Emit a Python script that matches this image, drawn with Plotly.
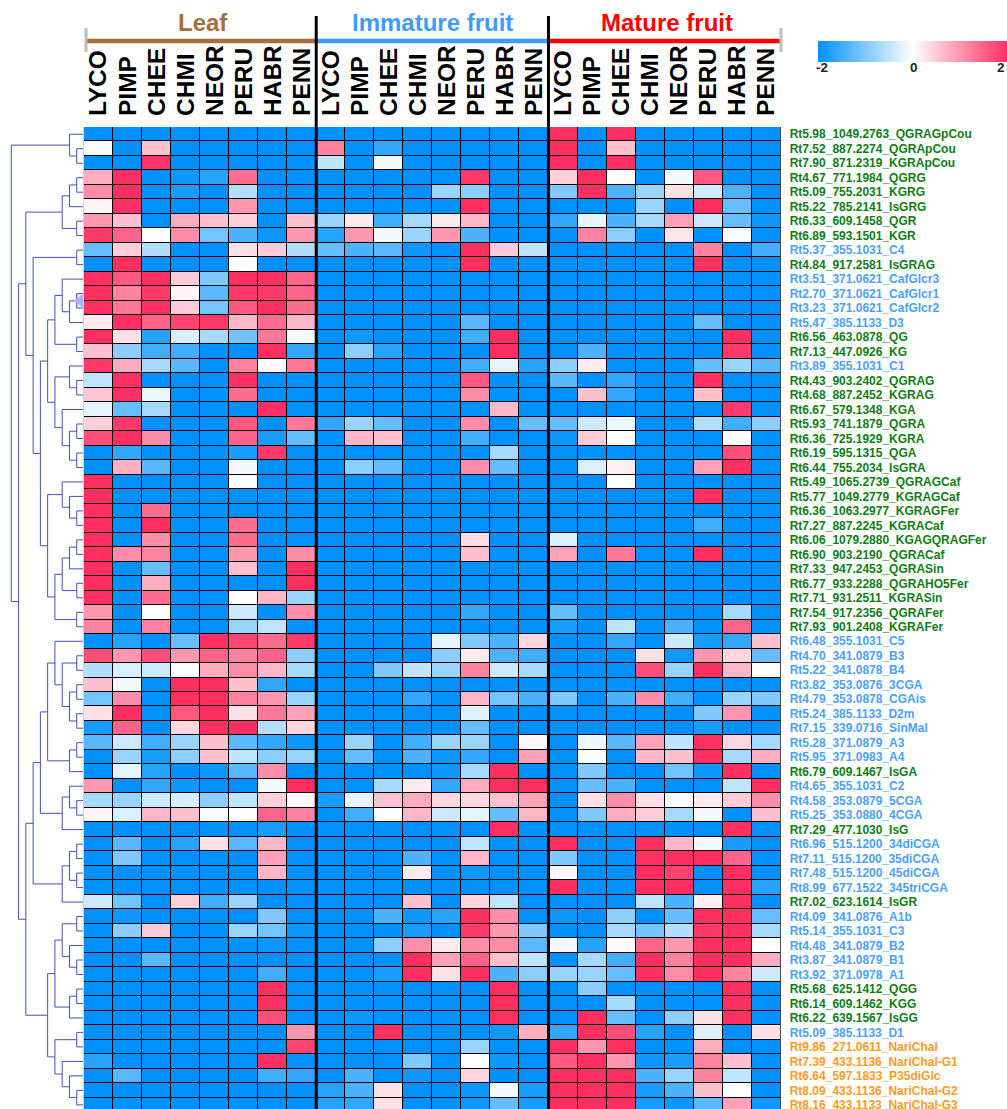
import plotly.graph_objects as go

W, H = 1007, 1109
FONT = "Liberation Sans"
GREEN, BLUE, ORANGE = "#0f7d14", "#4a9fff", "#ff9a1e"

species = ["LYCO", "PIMP", "CHEE", "CHMI", "NEOR", "PERU", "HABR", "PENN"]
tissues = ["Leaf", "Immature fruit", "Mature fruit"]
tissue_colors = ["#a56f3b", "#3f9bff", "#ff0000"]
legend_ticks = ["-2", "0", "2"]

row_names = [
    "Rt5.98_1049.2763_QGRAGpCou", "Rt7.52_887.2274_QGRApCou", "Rt7.90_871.2319_KGRApCou", "Rt4.67_771.1984_QGRG",
    "Rt5.09_755.2031_KGRG", "Rt5.22_785.2141_IsGRG", "Rt6.33_609.1458_QGR", "Rt6.89_593.1501_KGR",
    "Rt5.37_355.1031_C4", "Rt4.84_917.2581_IsGRAG", "Rt3.51_371.0621_CafGlcr3", "Rt2.70_371.0621_CafGlcr1",
    "Rt3.23_371.0621_CafGlcr2", "Rt5.47_385.1133_D3", "Rt6.56_463.0878_QG", "Rt7.13_447.0926_KG",
    "Rt3.89_355.1031_C1", "Rt4.43_903.2402_QGRAG", "Rt4.68_887.2452_KGRAG", "Rt6.67_579.1348_KGA",
    "Rt5.93_741.1879_QGRA", "Rt6.36_725.1929_KGRA", "Rt6.19_595.1315_QGA", "Rt6.44_755.2034_IsGRA",
    "Rt5.49_1065.2739_QGRAGCaf", "Rt5.77_1049.2779_KGRAGCaf", "Rt6.36_1063.2977_KGRAGFer", "Rt7.27_887.2245_KGRACaf",
    "Rt6.06_1079.2880_KGAGQRAGFer", "Rt6.90_903.2190_QGRACaf", "Rt7.33_947.2453_QGRASin", "Rt6.77_933.2288_QGRAHO5Fer",
    "Rt7.71_931.2511_KGRASin", "Rt7.54_917.2356_QGRAFer", "Rt7.93_901.2408_KGRAFer", "Rt6.48_355.1031_C5",
    "Rt4.70_341.0879_B3", "Rt5.22_341.0878_B4", "Rt3.82_353.0876_3CGA", "Rt4.79_353.0878_CGAis",
    "Rt5.24_385.1133_D2m", "Rt7.15_339.0716_SinMal", "Rt5.28_371.0879_A3", "Rt5.95_371.0983_A4",
    "Rt6.79_609.1467_IsGA", "Rt4.65_355.1031_C2", "Rt4.58_353.0879_5CGA", "Rt5.25_353.0880_4CGA",
    "Rt7.29_477.1030_IsG", "Rt6.96_515.1200_34diCGA", "Rt7.11_515.1200_35diCGA", "Rt7.48_515.1200_45diCGA",
    "Rt8.99_677.1522_345triCGA", "Rt7.02_623.1614_IsGR", "Rt4.09_341.0876_A1b", "Rt5.14_355.1031_C3",
    "Rt4.48_341.0879_B2", "Rt3.87_341.0879_B1", "Rt3.92_371.0978_A1", "Rt5.68_625.1412_QGG",
    "Rt6.14_609.1462_KGG", "Rt6.22_639.1567_IsGG", "Rt5.09_385.1133_D1", "Rt9.86_271.0611_NariChal",
    "Rt7.39_433.1136_NariChal-G1", "Rt6.64_597.1833_P35diGlc", "Rt8.09_433.1136_NariChal-G2", "Rt8.16_433.1133_NariChal-G3",
]
row_classes = list("gggggggg" "bg" "bbbb" "gg" "b" "ggg" "gggg" "ggggggggggg"
                   "bbbbbbbbb" "g" "bbb" "g" "bbbb" "g" "bbbbb" "ggg" "b" "ooooo")

leaf_values = [
    [-2, -2, -2, -2, -2, -2, -2, -2],
    [-.05, -2, .6, -2, -2, -2, -2, -2],
    [-2, -2, 1.95, -2, -2, -2, -2, -2],
    [.8, 2, -2, -1.9, -1.7, 1.4, -2, -2],
    [1.1, 2, -2, -1.8, -2, -.6, -2, -2],
    [.1, 2, -2, -2, -2, 1, -2, -2],
    [1, .6, -2, .8, .6, .45, -2, .6],
    [1.9, 1.5, 0, 1.1, -1.1, -1.4, -1.9, 1],
    [-1.2, .45, -.6, -2, -2, .3, .5, -.6],
    [-2, 2, -2, -2, -2, 0, -2, -2],
    [2, 1.6, 2, .5, -1, 2, 2, 1.5],
    [2, 1.2, 1.9, .1, -1.3, 1.9, 1.9, 1.5],
    [2, 1.3, 2, .5, -1.1, 1.6, 2, 1.4],
    [.2, 2, 1.5, 1.8, 1.9, .7, 1.4, .7],
    [2, .3, -1.7, -.3, -.7, -1.1, 1.3, -.1],
    [.6, -.9, -1.5, -1.5, -2, -2, 2, -1.6],
    [1.9, .8, -.7, -1.3, -2, 1.2, .05, 1.3],
    [-.5, 2, -2, -2, -2, 2, -2, -2],
    [.55, 2, -.15, -2, -2, 1.4, -2, -2],
    [-.2, -1.2, -.7, -2, -2, -2, 2, -2],
    [.45, 1.9, -2, -2, -2, 1.6, -2, 1.3],
    [1.7, 2, 1.1, -2, -2, 1.5, -1.8, -1.2],
    [-2, -1.6, -2, -2, -2, -1.8, 1.9, -2],
    [-2, .75, -1.3, -2, -2, -.1, -2, -2],
    [2, -2, -2, -2, -2, -.02, -2, -2],
    [2, -2, -2, -2, -2, -2, -2, -2],
    [2, -2, 1.4, -2, -2, -2, -2, -2],
    [2, -2, 2, -2, -2, 1.4, -2, -2],
    [2, -2, 1.1, -2, -2, 1.4, -2, -2],
    [2, 1.1, 1.2, -2, -2, 1, -2, 1.1],
    [2, -2, -1.2, -2, -2, .6, -2, 2],
    [2, -2, .8, -2, -2, -2, -2, 2],
    [2, -2, 1.4, -2, -2, 0, .7, -.8],
    [1, -2, 0, -2, -2, -.4, -2, 1.1],
    [1.2, -2, 1.2, -2, -2, -.8, -.5, -2],
    [-2, -1.7, -2, -1.2, 2, 1.8, 1.4, 1.9],
    [1.7, 1, 1.7, 1, 1.5, 1.2, 1.5, -.9],
    [-.6, -.3, -.4, 0, .8, 1.1, .7, -.7],
    [.6, -.1, -2, 2, 2, .6, -1.6, -2],
    [-1.1, 1.1, -2, 2, 2, 1.2, 1, -.8],
    [.3, 2, -2, 1.6, 2, .3, 1.3, .9],
    [-1.8, 1.5, -2, .4, 2, 2, -.6, .4],
    [-1.3, -.4, -1.5, -.8, .6, -1.3, -1.6, -1.9],
    [-2, -.8, -1.8, -.9, .6, -.5, -.9, -.8],
    [-2, -.2, -1.7, -2, -1.9, -1.3, 1.1, -2],
    [1, -2, -1.6, -1.9, -2, -2, -.1, 2],
    [-.7, -.8, -.4, -.3, -.9, -.5, .45, .1],
    [.1, -.3, .7, .6, -.05, 0, 1.5, 1.2],
    [-2, -2, -2, -2, -2, -2, -1.8, -2],
    [-2, -1.3, -2, -1.7, .3, -1.3, .7, -2],
    [-2, -1, -2, -2, -2, -2, .9, -2],
    [-2, -2, -2, -2, -2, -2, .7, -2],
    [-2, -2, -2, -2, -2, -2, -2, -2],
    [-.4, -1.1, -2, .45, -1.5, -.8, -2, -2],
    [-2, -1.9, -2, -2, -2, -2, -1, -2],
    [-2, -.9, .5, -2, -2, -.8, -1.1, -1.9],
    [-2, -2, -2, -2, -2, -2, -1.9, -2],
    [-2, -2, -1.3, -2, -2, -2, -2, -2],
    [-2, -2, -2, -2, -2, -2, -1.5, -2],
    [-2, -2, -2, -2, -2, -2, 2, -2],
    [-2, -2, -2, -2, -2, -2, 2, -2],
    [-2, -2, -2, -2, -2, -2, 1.7, -2],
    [-2, -2, -2, -2, -2, -2, -2, 1],
    [-2, -2, -2, -2, -2, -2, -2, 1.8],
    [-1.7, -2, -2, -2, -2, -2, 2, -2],
    [-2, -1.3, -2, -2, -2, -2, -1.5, -1.6],
    [-2, -2, -2, -2, -2, -2, -2, -2],
    [-2, -2, -2, -2, -2, -2, -2, -2],
]

immature_values = [
    [-2, -2, -2, -2, -2, -2, -2, -2],
    [1.2, -2, -1.6, -2, -2, -2, -2, -2],
    [-.5, -2, -.1, -2, -2, -2, -2, -2],
    [-2, -2, -2, -2, -2, 1.9, -2, -2],
    [-2, -2, -2, -2, -.8, -.9, -2, -2],
    [-2, -2, -2, -2, -2, 2, -2, -2],
    [-.8, .2, -1.5, -.7, .2, .7, -2, -2],
    [-1.7, 1, -.1, -.8, 1, -1.4, -2, -2],
    [-1.2, -1.4, -1.3, -1.9, -2, 2, .5, -.5],
    [-2, -2, -2, -2, -2, 2, -2, -2],
    [-2, -2, -2, -2, -2, -2, -2, -2],
    [-2, -2, -2, -2, -2, -2, -2, -2],
    [-2, -2, -2, -2, -2, -2, -2, -2],
    [-2, -2, -2, -2, -2, -1.3, -2, -2],
    [-2, -1.9, -2, -2, -2, -1.5, 2, -2],
    [-2, -.9, -1.7, -2, -2, -2, 2, -2],
    [-2, -2, -2, -2, -2, -1.5, -.2, -1.7],
    [-2, -2, -2, -2, -2, 1.6, -2, -2],
    [-2, -2, -2, -2, -2, 1.1, -2, -2],
    [-2, -2, -2, -2, -2, -2, .7, -2],
    [-1.6, -.8, -1.2, -2, -2, 1.1, -2, -1.2],
    [-2, .7, .6, -2, -2, -1.5, -2, -2],
    [-2, -2, -2, -2, -2, -2, -.7, -2],
    [-2, -.9, -1.2, -2, -2, 1.1, -1.2, -2],
    [-2, -2, -2, -2, -2, -2, -2, -2],
    [-2, -2, -2, -2, -2, -2, -2, -2],
    [-2, -2, -2, -2, -2, -2, -2, -2],
    [-2, -2, -2, -2, -2, -2, -2, -2],
    [-2, -2, -2, -2, -2, .35, -2, -2],
    [-2, -2, -2, -2, -2, .6, -2, -2],
    [-2, -2, -2, -2, -2, -2, -2, -2],
    [-2, -2, -2, -2, -2, -2, -2, -2],
    [-2, -2, -2, -2, -2, -2, -2, -2],
    [-2, -2, -2, -2, -2, -1.6, -2, -2],
    [-2, -2, -2, -2, -2, -2, -2, -2],
    [-2, -2, -2, -2, -.2, -1, -1.4, .4],
    [-2, -2, -2, -2, -.9, .2, -1.4, -1.5],
    [-2, -2, -1, -.5, -.8, 1.2, -.4, -.7],
    [-2, -2, -2, -2, -2, -2, -2, -2],
    [-2, -2, -2, -1.6, -2, .7, -1.1, -1.4],
    [-2, -2, -2, -2, -2, -.25, -2, -2],
    [-2, -2, -2, -2, -2, -1.2, -2, -2],
    [-2, -.8, -2, -1.5, -.8, -.8, -2, .07],
    [-2, -1.2, -2, -1.4, -1.9, -1.6, -2, .9],
    [-2, -2, -2, -2, -1.9, -.7, 2, -2],
    [-2, -2, -.7, .2, -1.6, .8, 2, 2],
    [-1.8, -.2, .6, .8, .4, .4, .6, .9],
    [-2, -1.5, 0, .7, -.4, -.2, -1.2, .7],
    [-2, -2, -2, -2, -2, -2, 2, -2],
    [-2, -2, -2, -2, -2, -.5, -2, -2],
    [-2, -2, -2, -1.4, -2, .7, -2, -2],
    [-2, -2, -2, .2, -2, -1.9, -2, -2],
    [-2, -2, -2, -2, -2, -2, -2, -2],
    [-2, -2, -2, .6, -2, .4, -.5, -2],
    [-2, -2, -1.4, -1.9, -1.7, 2, 1.1, -2],
    [-2, -2, -2, -1.8, -2, 1.9, 1, -1],
    [-2, -2, -.9, 1.1, .2, 1.1, 1.1, -1.3],
    [-2, -2, -2, 2, .9, 1.5, .6, -.5],
    [-2, -2, -1.8, 2, .3, 2, -1.4, -.9],
    [-2, -2, -2, -2, -2, -2, 2, -2],
    [-2, -2, -2, -2, -2, -2, 2, -2],
    [-2, -1.9, -2, -2, -2, -2, 2, -2],
    [-2, -2, 2, -2, -2, -2, -1.9, .8],
    [-2, -2, -2, -2, -2, -.8, -2, -2],
    [-2, -2, -2, -1, -2, 0, -1.9, -2],
    [-2, -1.4, -2, -1.9, -2, .4, -2, -2],
    [-1.7, -1.4, .3, -2, -2, -1.9, -.1, -1.8],
    [-1.7, -1.6, .3, -2, -2, -1.9, -1.2, -1.8],
]

mature_values = [
    [2, -2, 2, -2, -2, -2, -2, -2],
    [2, -2, .6, -2, -2, -2, -2, -2],
    [2, -2, 2, -2, -2, -2, -2, -2],
    [.45, 2, 0, -2, -.1, 1.6, -2, -2],
    [-1, 2, -1.4, -.8, .3, -.35, -1.4, -2],
    [-2, -2, -2, -.8, -2, 2, -1.2, -2],
    [-1.6, -.2, -1.4, -.7, .9, -.4, -1.2, -1.9],
    [-2, 1.2, -.9, -2, .25, -2, -.05, -2],
    [-2, -2, -2, -2, -2, 1.2, -2, -1.5],
    [-2, -2, -2, -2, -2, 2, -2, -2],
    [-2, -2, -2, -2, -2, -2, -2, -2],
    [-2, -2, -2, -2, -2, -2, -2, -2],
    [-2, -2, -2, -2, -2, -2, -2, -2],
    [-2, -2, -2, -2, -2, -1.2, -2, -2],
    [-2, -2, -2, -2, -2, -2, 2, -2],
    [-2, -1.4, -2, -2, -2, -2, 1.9, -2],
    [-.9, .2, -2, -2, -2, -1.2, -.8, -1.3],
    [-1.3, -2, -1.6, -2, -2, 2, -2, -2],
    [-2, .6, -1.6, -2, -2, .6, -2, -2],
    [-2, -2, -2, -2, -2, -2, 1.9, -2],
    [-1.2, -.4, -.15, -2, -2, -.6, -1.5, -.9],
    [-1.9, .5, 0, -2, -2, -2, .05, -2],
    [-2, -2, -2, -2, -2, -2, 1.7, -2],
    [-2, -.3, .15, -2, -2, .9, 2, -2],
    [-2, -2, 0, -2, -2, -2, -2, -2],
    [-2, -2, -2, -2, -2, 2, -2, -2],
    [-2, -2, -2, -2, -2, -2, -2, -2],
    [-2, -2, -2, -2, -2, -1.5, -2, -2],
    [-.3, -2, -2, -2, -2, -2, -2, -2],
    [.9, -2, 1.3, -2, -2, 2, -2, -2],
    [-2, -2, -2, -2, -2, -2, -2, -2],
    [-2, -2, -2, -2, -2, -2, -2, -2],
    [-2, -2, -2, -2, -2, -2, -2, -2],
    [-1.2, -2, -2, -2, -2, -2, -.7, -2],
    [-1.8, -2, -.5, -2, -1.4, -2, 1.5, -2],
    [-2, -2, -1.6, -2, -.4, -1.8, -1.6, .6],
    [-2, -2, -2, .3, -1.9, 1, .4, -1.2],
    [-2, -2, -2, 1.7, -.8, 2, .7, 0],
    [-2, -2, -2, -2, -2, -2, -2, -2],
    [-1, -2, -1.4, 1.1, -1.5, -2, -.8, -1],
    [-2, -2, -2, -2, -2, -1, 1, -2],
    [-2, -2, -2, -2, -2, -1.8, -2, -2],
    [-2, -.15, -1.3, .9, -.5, 2, .4, -.7],
    [-2, 0, -2, .7, .6, 2, -.7, .8],
    [-2, -1, -2, -2, -1.1, -1.9, 2, -2],
    [-2, -1.2, -1.4, -2, -2, -2, -.5, 2],
    [-2, .3, 1.1, .3, 0, .2, .5, 1.1],
    [-2, -1, .8, .5, -.7, -.1, -2, .6],
    [-2, -2, -2, -2, -2, -2, 2, -2],
    [2, -2, -2, 2, .7, -.1, -1.8, -2],
    [-1, -2, -2, 2, 2, 2, 1.5, -2],
    [.1, -2, -2, 2, 1.8, -2, 2, -2],
    [2, -2, -2, 2, 2, -2, 2, -1.7],
    [-2, -2, -2, -.5, -1.4, .15, 2, -2],
    [-1.9, -2, -.9, -2, -1.2, 2, 2, -1.2],
    [-2, -2, -.7, -1.1, -.6, 1.9, 2, -.7],
    [-.1, -1.7, .05, 1.5, 1, 2, 2, 0],
    [-2, -.7, -1.5, 2, 1.2, 2, 2, .8],
    [-.8, -.8, -1.2, 2, 1.1, 2, 1.2, -.4],
    [-2, -.9, -2, -2, -2, -2, 2, -2],
    [-2, -2, -.7, -2, -2, -2, 2, -2],
    [-2, 2, -1.2, -2, -.9, .3, 2, -2],
    [-1.6, 2, 1.7, -1.7, -2, -.25, -2, .3],
    [2, 1, 2, -2, -2, .8, -2, -2],
    [1.6, 2, 1, -1.9, -1.8, 1.2, .6, -2],
    [2, 2, 2, -1.4, -.8, 1.2, -.5, -2],
    [2, 2, 2, -1.8, -1.4, .6, 0, -2],
    [2, 2, 2, -1.8, -1.9, -1.3, .9, -1.9],
]

# Clustering tree: (merge level, child, child); an integer child is a 1-based row.
branch_a = (2, 1, (1, 2, 3))
branch_c1 = (3, (2, (1, 4, 5), 6), (1, 7, 8))
branch_g = (4, (3, 11, (2, (1, 12, 13), 14)), (1, 15, 16))
branch_h = (4, (2, 17, (1, 18, 19)), (3, 20, (2, (1, 21, 22), (1, 23, 24))))
branch_f = (5, (3, 25, (2, 26, (1, 27, 28))),
            (4, (3, (2, (1, 29, 30), 31), (1, 32, 33)), (1, 34, 35)))
branch_c2 = (7, (1, 9, 10), (6, (5, branch_g, branch_h), branch_f))
branch_c = (8, branch_c1, branch_c2)
branch_y = (5, (4, 36, (3, (1, 37, 38), (2, (1, 39, 40), (1, 41, 42)))),
            (2, (1, 43, 44), 45))
branch_z = (3, (2, 46, (1, 47, 48)), 49)
branch_x = (3, (2, (1, 50, 51), (1, 52, 53)), 54)
branch_u = (7, (6, branch_y, branch_z), branch_x)
branch_v = (5, (4, (3, (1, 55, 56), (2, 57, (1, 58, 59))), (2, (1, 60, 61), 62)),
            (4, (1, 63, 64), (3, 65, (2, 66, (1, 67, 68)))))
dendro_tree = (10, branch_a, (9, branch_c, (8, branch_u, branch_v)))
collapse_marker_level = [0.55]
collapse_marker_row = [11.5]

dx, dy = [], []


def walk(node):
    if isinstance(node, int):
        return 0, node - 1
    level, a, b = node
    la, ya = walk(a)
    lb, yb = walk(b)
    dx.extend([la, level, level, lb, None])
    dy.extend([ya, ya, yb, yb, None])
    return level, (ya + yb) / 2


walk(dendro_tree)

z = [a + b + c for a, b, c in zip(leaf_values, immature_values, mature_values)]
columns = list(range(24))
column_labels = species * 3
class_color = {"g": GREEN, "b": BLUE, "o": ORANGE}
y_labels = [f'<span style="color:{class_color[c]}">{n}</span>' for n, c in zip(row_names, row_classes)]

HM_L, HM_R, HM_T = 84, 780.7, 127
ROW_H = 14.487
Y_BOTTOM = (H - HM_T) / ROW_H - 0.5
colorscale = [[0, "#0091ff"], [0.5, "#ffffff"], [1, "#ff2f62"]]

fig = go.Figure()
fig.add_trace(go.Heatmap(
    z=z, x=columns, y=list(range(len(row_names))), zmin=-2, zmax=2, colorscale=colorscale,
    xgap=1, ygap=1, hoverinfo="skip",
    colorbar=dict(
        orientation="h", thicknessmode="pixels", thickness=21, lenmode="pixels", len=189,
        x=818 / W, xanchor="left", y=1 - 62 / H, yanchor="bottom", xpad=0, ypad=0,
        outlinewidth=0, ticks="", showticklabels=False,
    ),
))
fig.add_trace(go.Scatter(x=dx, y=dy, xaxis="x2", yaxis="y", mode="lines",
                         line=dict(color="#4353ae", width=1), hoverinfo="skip", showlegend=False))
fig.add_trace(go.Scatter(x=collapse_marker_level, y=collapse_marker_row, xaxis="x2", yaxis="y", mode="markers",
                         marker=dict(symbol="triangle-left", size=12, color="#aab2f8"),
                         hoverinfo="skip", showlegend=False))

shapes = [dict(type="rect", xref="paper", yref="paper", x0=HM_L / W, x1=HM_R / W, y0=0, y1=1 - HM_T / H,
               line=dict(width=0), fillcolor="#000000", layer="below")]
for i, color in enumerate(tissue_colors):
    shapes.append(dict(type="line", xref="x", yref="paper", x0=8 * i - 0.45 if i == 0 else 8 * i - 0.5, x1=8 * i + 7.5,
                       y0=1 - 41 / H, y1=1 - 41 / H, line=dict(color=color, width=4.5)))
for sep in [7.5, 15.5]:
    shapes.append(dict(type="line", xref="x", yref="paper", x0=sep, x1=sep, y0=0, y1=1 - 16 / H,
                       line=dict(color="#000000", width=3)))
for px in [86, 781]:
    shapes.append(dict(type="line", xref="paper", yref="paper", x0=px / W, x1=px / W,
                       y0=1 - 28 / H, y1=1 - 52 / H, line=dict(color="#bdbdbd", width=3)))
shapes.append(dict(type="line", xref="paper", yref="paper", x0=83.5 / W, x1=83.5 / W, y0=0, y1=1 - HM_T / H,
                   line=dict(color="#cfcfcf", width=1)))
shapes.append(dict(type="rect", xref="paper", yref="paper", x0=76.5 / W, x1=84 / W,
                   y0=1 - 308 / H, y1=1 - 293.5 / H, line=dict(width=0), fillcolor="#ececec", layer="below"))

title_shift = [0.1, 0.0, 0.07]
annotations = [
    dict(text=name, xref="x", yref="paper", x=8 * i + 3.5 + title_shift[i], y=1 - 22.5 / H,
         xanchor="center", yanchor="middle", showarrow=False,
         font=dict(family=FONT, size=24, color=color, weight=700))
    for i, (name, color) in enumerate(zip(tissues, tissue_colors))
]
for label, px in zip(legend_ticks, [822, 914, 1001]):
    annotations.append(dict(text=label, xref="paper", yref="paper", x=px / W, y=1 - 68 / H,
                            xanchor="center", yanchor="middle", showarrow=False,
                            font=dict(family=FONT, size=13.5, color="#222222", weight=700)))

fig.update_layout(
    width=W, height=H, autosize=False, showlegend=False,
    margin=dict(l=0, r=0, t=0, b=0, autoexpand=False),
    paper_bgcolor="#ffffff", plot_bgcolor="#ffffff",
    xaxis=dict(domain=[HM_L / W, HM_R / W], range=[-0.5, 23.5], side="top", anchor="y", tickmode="array",
               tickvals=columns, ticktext=column_labels, tickangle=-90, ticks="", ticklen=0, ticklabelstandoff=10,
               tickfont=dict(family=FONT, size=24.5, color="#000000", weight=700),
               showgrid=False, zeroline=False, showline=False),
    yaxis=dict(domain=[0, 1 - HM_T / H], range=[Y_BOTTOM, -0.5], side="right", anchor="x", tickmode="array",
               tickvals=list(range(len(row_names))), ticktext=y_labels, ticks="", ticklen=0, ticklabelstandoff=8,
               ticklabeloverflow="allow",
               tickfont=dict(family=FONT, size=12, weight=700),
               showgrid=False, zeroline=False, showline=False),
    xaxis2=dict(domain=[0, HM_L / W], range=[HM_L / 7.27, 0], anchor="y", visible=False, showgrid=False, zeroline=False),
    shapes=shapes, annotations=annotations,
)

fig.write_html("out.html", config={"displayModeBar": False},
               post_script="document.body.style.margin='0';document.body.style.overflow='hidden';")
